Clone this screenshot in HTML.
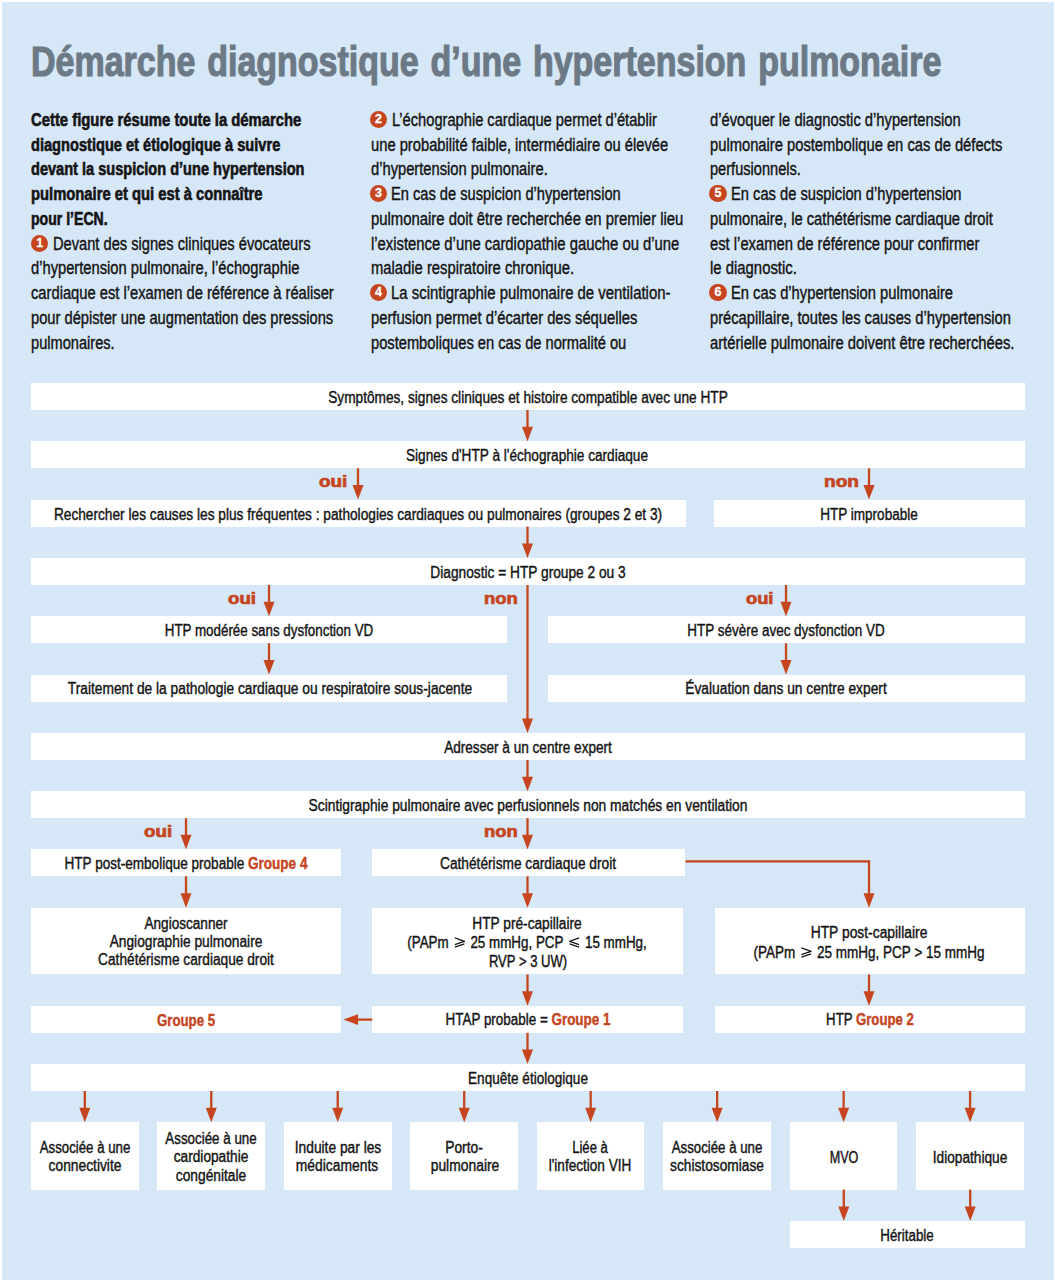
<!DOCTYPE html><html><head><meta charset="utf-8"><style>
html,body{margin:0;padding:0;background:#fff;}
body{width:1055px;height:1280px;position:relative;overflow:hidden;font-family:"Liberation Sans", sans-serif;}
#bg{position:absolute;left:1.7px;top:2px;width:1052px;height:1277.5px;background:#d6e7f7;}
.b{position:absolute;background:#fff;}
.t{position:absolute;white-space:pre;line-height:0;}
.t span.i{display:inline-block;}
.c{position:absolute;border-radius:50%;background:#c6451f;color:#fff;font-weight:700;text-align:center;}
</style></head><body><div id="bg"></div>

<div class="b" style="left:31.00px;top:383.00px;width:993.50px;height:27.00px"></div>
<div class="b" style="left:31.00px;top:441.30px;width:993.50px;height:27.00px"></div>
<div class="b" style="left:31.00px;top:499.60px;width:654.60px;height:27.00px"></div>
<div class="b" style="left:714.00px;top:499.60px;width:310.50px;height:27.00px"></div>
<div class="b" style="left:31.00px;top:558.10px;width:993.50px;height:27.00px"></div>
<div class="b" style="left:31.00px;top:616.30px;width:476.30px;height:27.00px"></div>
<div class="b" style="left:548.00px;top:616.30px;width:476.50px;height:27.00px"></div>
<div class="b" style="left:31.00px;top:674.60px;width:476.30px;height:27.00px"></div>
<div class="b" style="left:548.00px;top:674.60px;width:476.50px;height:27.00px"></div>
<div class="b" style="left:31.00px;top:733.00px;width:993.50px;height:27.00px"></div>
<div class="b" style="left:31.00px;top:791.20px;width:993.50px;height:27.00px"></div>
<div class="b" style="left:31.00px;top:849.30px;width:310.00px;height:27.00px"></div>
<div class="b" style="left:372.20px;top:849.30px;width:313.30px;height:27.00px"></div>
<div class="b" style="left:31.00px;top:907.80px;width:310.00px;height:66.70px"></div>
<div class="b" style="left:372.20px;top:907.80px;width:310.80px;height:66.70px"></div>
<div class="b" style="left:714.50px;top:907.80px;width:310.00px;height:66.70px"></div>
<div class="b" style="left:31.00px;top:1005.80px;width:310.00px;height:27.00px"></div>
<div class="b" style="left:372.20px;top:1005.80px;width:310.80px;height:27.00px"></div>
<div class="b" style="left:714.50px;top:1005.80px;width:310.00px;height:27.00px"></div>
<div class="b" style="left:31.00px;top:1064.00px;width:993.50px;height:27.00px"></div>
<div class="b" style="left:31.00px;top:1122.30px;width:107.60px;height:67.30px"></div>
<div class="b" style="left:157.47px;top:1122.30px;width:107.60px;height:67.30px"></div>
<div class="b" style="left:283.94px;top:1122.30px;width:107.60px;height:67.30px"></div>
<div class="b" style="left:410.41px;top:1122.30px;width:107.60px;height:67.30px"></div>
<div class="b" style="left:536.88px;top:1122.30px;width:107.60px;height:67.30px"></div>
<div class="b" style="left:663.35px;top:1122.30px;width:107.60px;height:67.30px"></div>
<div class="b" style="left:789.82px;top:1122.30px;width:107.60px;height:67.30px"></div>
<div class="b" style="left:916.29px;top:1122.30px;width:107.60px;height:67.30px"></div>
<div class="b" style="left:790.00px;top:1221.00px;width:234.50px;height:26.70px"></div>
<div class="t" id="t0" style="left:31.31px;top:60.80px;transform-origin:0 0;transform:scaleX(0.7851);font-size:43.3px;font-weight:700;color:#6b7a86;-webkit-text-stroke-width:1.2px"><span class="i" style="vertical-align:baseline"><span style="word-spacing:3px">Démarche diagnostique d’une hypertension pulmonaire</span></span></div>
<div class="t" id="t1" style="left:31.00px;top:119.84px;transform-origin:0 0;transform:scaleX(0.8475);font-size:17.5px;font-weight:700;color:#141414;-webkit-text-stroke-width:0.6px"><span class="i" style="vertical-align:baseline">Cette figure résume toute la démarche</span></div>
<div class="t" id="t2" style="left:31.00px;top:144.60px;transform-origin:0 0;transform:scaleX(0.8351);font-size:17.5px;font-weight:700;color:#141414;-webkit-text-stroke-width:0.6px"><span class="i" style="vertical-align:baseline">diagnostique et étiologique à suivre</span></div>
<div class="t" id="t3" style="left:31.00px;top:169.36px;transform-origin:0 0;transform:scaleX(0.8321);font-size:17.5px;font-weight:700;color:#141414;-webkit-text-stroke-width:0.6px"><span class="i" style="vertical-align:baseline">devant la suspicion d’une hypertension</span></div>
<div class="t" id="t4" style="left:31.00px;top:194.12px;transform-origin:0 0;transform:scaleX(0.8445);font-size:17.5px;font-weight:700;color:#141414;-webkit-text-stroke-width:0.6px"><span class="i" style="vertical-align:baseline">pulmonaire et qui est à connaître</span></div>
<div class="t" id="t5" style="left:31.00px;top:218.88px;transform-origin:0 0;transform:scaleX(0.8043);font-size:17.5px;font-weight:700;color:#141414;-webkit-text-stroke-width:0.6px"><span class="i" style="vertical-align:baseline">pour l’ECN.</span></div>
<div class="t" id="t6" style="left:53.10px;top:243.64px;transform-origin:0 0;transform:scaleX(0.8376);font-size:17.5px;font-weight:400;color:#141414;-webkit-text-stroke-width:0.4px"><span class="i" style="vertical-align:baseline">Devant des signes cliniques évocateurs</span></div>
<div class="t" id="t7" style="left:31.00px;top:268.40px;transform-origin:0 0;transform:scaleX(0.8410);font-size:17.5px;font-weight:400;color:#141414;-webkit-text-stroke-width:0.4px"><span class="i" style="vertical-align:baseline">d’hypertension pulmonaire, l’échographie</span></div>
<div class="t" id="t8" style="left:31.00px;top:293.16px;transform-origin:0 0;transform:scaleX(0.8412);font-size:17.5px;font-weight:400;color:#141414;-webkit-text-stroke-width:0.4px"><span class="i" style="vertical-align:baseline">cardiaque est l’examen de référence à réaliser</span></div>
<div class="t" id="t9" style="left:31.00px;top:317.92px;transform-origin:0 0;transform:scaleX(0.8395);font-size:17.5px;font-weight:400;color:#141414;-webkit-text-stroke-width:0.4px"><span class="i" style="vertical-align:baseline">pour dépister une augmentation des pressions</span></div>
<div class="t" id="t10" style="left:31.00px;top:342.68px;transform-origin:0 0;transform:scaleX(0.8352);font-size:17.5px;font-weight:400;color:#141414;-webkit-text-stroke-width:0.4px"><span class="i" style="vertical-align:baseline">pulmonaires.</span></div>
<div class="t" id="t11" style="left:392.06px;top:119.84px;transform-origin:0 0;transform:scaleX(0.8377);font-size:17.5px;font-weight:400;color:#141414;-webkit-text-stroke-width:0.4px"><span class="i" style="vertical-align:baseline">L’échographie cardiaque permet d’établir</span></div>
<div class="t" id="t12" style="left:371.03px;top:144.60px;transform-origin:0 0;transform:scaleX(0.8414);font-size:17.5px;font-weight:400;color:#141414;-webkit-text-stroke-width:0.4px"><span class="i" style="vertical-align:baseline">une probabilité faible, intermédiaire ou élevée</span></div>
<div class="t" id="t13" style="left:371.03px;top:169.36px;transform-origin:0 0;transform:scaleX(0.8411);font-size:17.5px;font-weight:400;color:#141414;-webkit-text-stroke-width:0.4px"><span class="i" style="vertical-align:baseline">d’hypertension pulmonaire.</span></div>
<div class="t" id="t14" style="left:391.06px;top:194.12px;transform-origin:0 0;transform:scaleX(0.8374);font-size:17.5px;font-weight:400;color:#141414;-webkit-text-stroke-width:0.4px"><span class="i" style="vertical-align:baseline">En cas de suspicion d’hypertension</span></div>
<div class="t" id="t15" style="left:371.03px;top:218.88px;transform-origin:0 0;transform:scaleX(0.8495);font-size:17.5px;font-weight:400;color:#141414;-webkit-text-stroke-width:0.4px"><span class="i" style="vertical-align:baseline">pulmonaire doit être recherchée en premier lieu</span></div>
<div class="t" id="t16" style="left:371.03px;top:243.64px;transform-origin:0 0;transform:scaleX(0.8473);font-size:17.5px;font-weight:400;color:#141414;-webkit-text-stroke-width:0.4px"><span class="i" style="vertical-align:baseline">l’existence d’une cardiopathie gauche ou d’une</span></div>
<div class="t" id="t17" style="left:371.03px;top:268.40px;transform-origin:0 0;transform:scaleX(0.8449);font-size:17.5px;font-weight:400;color:#141414;-webkit-text-stroke-width:0.4px"><span class="i" style="vertical-align:baseline">maladie respiratoire chronique.</span></div>
<div class="t" id="t18" style="left:391.05px;top:293.16px;transform-origin:0 0;transform:scaleX(0.8524);font-size:17.5px;font-weight:400;color:#141414;-webkit-text-stroke-width:0.4px"><span class="i" style="vertical-align:baseline">La scintigraphie pulmonaire de ventilation-</span></div>
<div class="t" id="t19" style="left:371.03px;top:317.92px;transform-origin:0 0;transform:scaleX(0.8424);font-size:17.5px;font-weight:400;color:#141414;-webkit-text-stroke-width:0.4px"><span class="i" style="vertical-align:baseline">perfusion permet d’écarter des séquelles</span></div>
<div class="t" id="t20" style="left:371.03px;top:342.68px;transform-origin:0 0;transform:scaleX(0.8384);font-size:17.5px;font-weight:400;color:#141414;-webkit-text-stroke-width:0.4px"><span class="i" style="vertical-align:baseline">postemboliques en cas de normalité ou</span></div>
<div class="t" id="t21" style="left:709.52px;top:119.84px;transform-origin:0 0;transform:scaleX(0.8422);font-size:17.5px;font-weight:400;color:#141414;-webkit-text-stroke-width:0.4px"><span class="i" style="vertical-align:baseline">d’évoquer le diagnostic d’hypertension</span></div>
<div class="t" id="t22" style="left:709.52px;top:144.60px;transform-origin:0 0;transform:scaleX(0.8420);font-size:17.5px;font-weight:400;color:#141414;-webkit-text-stroke-width:0.4px"><span class="i" style="vertical-align:baseline">pulmonaire postembolique en cas de défects</span></div>
<div class="t" id="t23" style="left:709.52px;top:169.36px;transform-origin:0 0;transform:scaleX(0.8339);font-size:17.5px;font-weight:400;color:#141414;-webkit-text-stroke-width:0.4px"><span class="i" style="vertical-align:baseline">perfusionnels.</span></div>
<div class="t" id="t24" style="left:730.61px;top:194.12px;transform-origin:0 0;transform:scaleX(0.8403);font-size:17.5px;font-weight:400;color:#141414;-webkit-text-stroke-width:0.4px"><span class="i" style="vertical-align:baseline">En cas de suspicion d’hypertension</span></div>
<div class="t" id="t25" style="left:709.52px;top:218.88px;transform-origin:0 0;transform:scaleX(0.8428);font-size:17.5px;font-weight:400;color:#141414;-webkit-text-stroke-width:0.4px"><span class="i" style="vertical-align:baseline">pulmonaire, le cathétérisme cardiaque droit</span></div>
<div class="t" id="t26" style="left:709.52px;top:243.64px;transform-origin:0 0;transform:scaleX(0.8443);font-size:17.5px;font-weight:400;color:#141414;-webkit-text-stroke-width:0.4px"><span class="i" style="vertical-align:baseline">est l’examen de référence pour confirmer</span></div>
<div class="t" id="t27" style="left:709.52px;top:268.40px;transform-origin:0 0;transform:scaleX(0.8507);font-size:17.5px;font-weight:400;color:#141414;-webkit-text-stroke-width:0.4px"><span class="i" style="vertical-align:baseline">le diagnostic.</span></div>
<div class="t" id="t28" style="left:730.61px;top:293.16px;transform-origin:0 0;transform:scaleX(0.8422);font-size:17.5px;font-weight:400;color:#141414;-webkit-text-stroke-width:0.4px"><span class="i" style="vertical-align:baseline">En cas d’hypertension pulmonaire</span></div>
<div class="t" id="t29" style="left:709.52px;top:317.92px;transform-origin:0 0;transform:scaleX(0.8408);font-size:17.5px;font-weight:400;color:#141414;-webkit-text-stroke-width:0.4px"><span class="i" style="vertical-align:baseline">précapillaire, toutes les causes d’hypertension</span></div>
<div class="t" id="t30" style="left:709.52px;top:342.68px;transform-origin:0 0;transform:scaleX(0.8434);font-size:17.5px;font-weight:400;color:#141414;-webkit-text-stroke-width:0.4px"><span class="i" style="vertical-align:baseline">artérielle pulmonaire doivent être recherchées.</span></div>
<div class="t" id="t31" style="left:527.50px;top:397.66px;transform-origin:0 0;transform:scaleX(0.8542) translateX(-50%);font-size:16px;font-weight:400;color:#141414;-webkit-text-stroke-width:0.4px"><span class="i" style="vertical-align:baseline">Symptômes, signes cliniques et histoire compatible avec une HTP</span></div>
<div class="t" id="t32" style="left:527.00px;top:455.66px;transform-origin:0 0;transform:scaleX(0.8515) translateX(-50%);font-size:16px;font-weight:400;color:#141414;-webkit-text-stroke-width:0.4px"><span class="i" style="vertical-align:baseline">Signes d'HTP à l'échographie cardiaque</span></div>
<div class="t" id="t33" style="left:358.00px;top:514.86px;transform-origin:0 0;transform:scaleX(0.8559) translateX(-50%);font-size:16px;font-weight:400;color:#141414;-webkit-text-stroke-width:0.4px"><span class="i" style="vertical-align:baseline">Rechercher les causes les plus fréquentes : pathologies cardiaques ou pulmonaires (groupes 2 et 3)</span></div>
<div class="t" id="t34" style="left:868.50px;top:514.86px;transform-origin:0 0;transform:scaleX(0.8453) translateX(-50%);font-size:16px;font-weight:400;color:#141414;-webkit-text-stroke-width:0.4px"><span class="i" style="vertical-align:baseline">HTP improbable</span></div>
<div class="t" id="t35" style="left:528.00px;top:573.16px;transform-origin:0 0;transform:scaleX(0.8570) translateX(-50%);font-size:16px;font-weight:400;color:#141414;-webkit-text-stroke-width:0.4px"><span class="i" style="vertical-align:baseline">Diagnostic = HTP groupe 2 ou 3</span></div>
<div class="t" id="t36" style="left:269.00px;top:630.96px;transform-origin:0 0;transform:scaleX(0.8351) translateX(-50%);font-size:16px;font-weight:400;color:#141414;-webkit-text-stroke-width:0.4px"><span class="i" style="vertical-align:baseline">HTP modérée sans dysfonction VD</span></div>
<div class="t" id="t37" style="left:785.50px;top:630.96px;transform-origin:0 0;transform:scaleX(0.8416) translateX(-50%);font-size:16px;font-weight:400;color:#141414;-webkit-text-stroke-width:0.4px"><span class="i" style="vertical-align:baseline">HTP sévère avec dysfonction VD</span></div>
<div class="t" id="t38" style="left:270.00px;top:689.26px;transform-origin:0 0;transform:scaleX(0.8607) translateX(-50%);font-size:16px;font-weight:400;color:#141414;-webkit-text-stroke-width:0.4px"><span class="i" style="vertical-align:baseline">Traitement de la pathologie cardiaque ou respiratoire sous-jacente</span></div>
<div class="t" id="t39" style="left:785.50px;top:689.26px;transform-origin:0 0;transform:scaleX(0.8613) translateX(-50%);font-size:16px;font-weight:400;color:#141414;-webkit-text-stroke-width:0.4px"><span class="i" style="vertical-align:baseline">Évaluation dans un centre expert</span></div>
<div class="t" id="t40" style="left:527.50px;top:747.76px;transform-origin:0 0;transform:scaleX(0.8494) translateX(-50%);font-size:16px;font-weight:400;color:#141414;-webkit-text-stroke-width:0.4px"><span class="i" style="vertical-align:baseline">Adresser à un centre expert</span></div>
<div class="t" id="t41" style="left:527.50px;top:806.16px;transform-origin:0 0;transform:scaleX(0.8627) translateX(-50%);font-size:16px;font-weight:400;color:#141414;-webkit-text-stroke-width:0.4px"><span class="i" style="vertical-align:baseline">Scintigraphie pulmonaire avec perfusionnels non matchés en ventilation</span></div>
<div class="t" id="t42" style="left:185.50px;top:864.36px;transform-origin:0 0;transform:scaleX(0.8465) translateX(-50%);font-size:16px;font-weight:400;color:#141414;-webkit-text-stroke-width:0.4px"><span class="i" style="vertical-align:baseline">HTP post-embolique probable <span style="color:#c6451f;font-weight:700">Groupe 4</span></span></div>
<div class="t" id="t43" style="left:528.00px;top:864.36px;transform-origin:0 0;transform:scaleX(0.8565) translateX(-50%);font-size:16px;font-weight:400;color:#141414;-webkit-text-stroke-width:0.4px"><span class="i" style="vertical-align:baseline">Cathétérisme cardiaque droit</span></div>
<div class="t" id="t44" style="left:186.00px;top:924.36px;transform-origin:0 0;transform:scaleX(0.8493) translateX(-50%);font-size:16px;font-weight:400;color:#141414;-webkit-text-stroke-width:0.4px"><span class="i" style="vertical-align:baseline">Angioscanner</span></div>
<div class="t" id="t45" style="left:186.00px;top:942.36px;transform-origin:0 0;transform:scaleX(0.8583) translateX(-50%);font-size:16px;font-weight:400;color:#141414;-webkit-text-stroke-width:0.4px"><span class="i" style="vertical-align:baseline">Angiographie pulmonaire</span></div>
<div class="t" id="t46" style="left:185.50px;top:960.36px;transform-origin:0 0;transform:scaleX(0.8555) translateX(-50%);font-size:16px;font-weight:400;color:#141414;-webkit-text-stroke-width:0.4px"><span class="i" style="vertical-align:baseline">Cathétérisme cardiaque droit</span></div>
<div class="t" id="t47" style="left:527.00px;top:924.16px;transform-origin:0 0;transform:scaleX(0.8567) translateX(-50%);font-size:16px;font-weight:400;color:#141414;-webkit-text-stroke-width:0.4px"><span class="i" style="vertical-align:baseline">HTP pré-capillaire</span></div>
<div class="t" id="t48" style="left:527.00px;top:942.86px;transform-origin:0 0;transform:scaleX(0.8376) translateX(-50%);font-size:16px;font-weight:400;color:#141414;-webkit-text-stroke-width:0.4px"><span class="i" style="vertical-align:baseline">(PAPm <span style="display:inline-block;position:relative;width:13px;height:0;margin:0 2px"><svg width="13" height="10.5" viewBox="0 0 13 10.5" style="position:absolute;left:0;bottom:0"><path d="M0.8 0.8L12.2 4.3L0.8 7.6M0.8 10.1L12.2 6.8" fill="none" stroke="currentColor" stroke-width="1.3"/></svg></span> 25 mmHg, PCP <span style="display:inline-block;position:relative;width:13px;height:0;margin:0 2px"><svg width="13" height="10.5" viewBox="0 0 13 10.5" style="position:absolute;left:0;bottom:0"><path d="M12.2 0.8L0.8 4.3L12.2 7.6M12.2 10.1L0.8 6.8" fill="none" stroke="currentColor" stroke-width="1.3"/></svg></span> 15 mmHg,</span></div>
<div class="t" id="t49" style="left:527.50px;top:961.66px;transform-origin:0 0;transform:scaleX(0.8148) translateX(-50%);font-size:16px;font-weight:400;color:#141414;-webkit-text-stroke-width:0.4px"><span class="i" style="vertical-align:baseline">RVP &gt; 3 UW)</span></div>
<div class="t" id="t50" style="left:869.00px;top:933.36px;transform-origin:0 0;transform:scaleX(0.8652) translateX(-50%);font-size:16px;font-weight:400;color:#141414;-webkit-text-stroke-width:0.4px"><span class="i" style="vertical-align:baseline">HTP post-capillaire</span></div>
<div class="t" id="t51" style="left:868.50px;top:952.76px;transform-origin:0 0;transform:scaleX(0.8440) translateX(-50%);font-size:16px;font-weight:400;color:#141414;-webkit-text-stroke-width:0.4px"><span class="i" style="vertical-align:baseline">(PAPm <span style="display:inline-block;position:relative;width:13px;height:0;margin:0 2px"><svg width="13" height="10.5" viewBox="0 0 13 10.5" style="position:absolute;left:0;bottom:0"><path d="M0.8 0.8L12.2 4.3L0.8 7.6M0.8 10.1L12.2 6.8" fill="none" stroke="currentColor" stroke-width="1.3"/></svg></span> 25 mmHg, PCP &gt; 15 mmHg</span></div>
<div class="t" id="t52" style="left:186.00px;top:1020.66px;transform-origin:0 0;transform:scaleX(0.8276) translateX(-50%);font-size:16px;font-weight:400;color:#141414;-webkit-text-stroke-width:0.4px"><span class="i" style="vertical-align:baseline"><span style="color:#c6451f;font-weight:700">Groupe 5</span></span></div>
<div class="t" id="t53" style="left:527.50px;top:1020.36px;transform-origin:0 0;transform:scaleX(0.8395) translateX(-50%);font-size:16px;font-weight:400;color:#141414;-webkit-text-stroke-width:0.4px"><span class="i" style="vertical-align:baseline">HTAP probable = <span style="color:#c6451f;font-weight:700">Groupe 1</span></span></div>
<div class="t" id="t54" style="left:869.50px;top:1020.36px;transform-origin:0 0;transform:scaleX(0.8248) translateX(-50%);font-size:16px;font-weight:400;color:#141414;-webkit-text-stroke-width:0.4px"><span class="i" style="vertical-align:baseline">HTP <span style="color:#c6451f;font-weight:700">Groupe 2</span></span></div>
<div class="t" id="t55" style="left:528.00px;top:1078.86px;transform-origin:0 0;transform:scaleX(0.8475) translateX(-50%);font-size:16px;font-weight:400;color:#141414;-webkit-text-stroke-width:0.4px"><span class="i" style="vertical-align:baseline">Enquête étiologique</span></div>
<div class="t" id="t56" style="left:84.50px;top:1147.96px;transform-origin:0 0;transform:scaleX(0.8281) translateX(-50%);font-size:16px;font-weight:400;color:#141414;-webkit-text-stroke-width:0.4px"><span class="i" style="vertical-align:baseline">Associée à une</span></div>
<div class="t" id="t57" style="left:85.00px;top:1166.36px;transform-origin:0 0;transform:scaleX(0.8623) translateX(-50%);font-size:16px;font-weight:400;color:#141414;-webkit-text-stroke-width:0.4px"><span class="i" style="vertical-align:baseline">connectivite</span></div>
<div class="t" id="t58" style="left:210.85px;top:1138.76px;transform-origin:0 0;transform:scaleX(0.8354) translateX(-50%);font-size:16px;font-weight:400;color:#141414;-webkit-text-stroke-width:0.4px"><span class="i" style="vertical-align:baseline">Associée à une</span></div>
<div class="t" id="t59" style="left:211.35px;top:1157.26px;transform-origin:0 0;transform:scaleX(0.8556) translateX(-50%);font-size:16px;font-weight:400;color:#141414;-webkit-text-stroke-width:0.4px"><span class="i" style="vertical-align:baseline">cardiopathie</span></div>
<div class="t" id="t60" style="left:211.35px;top:1175.56px;transform-origin:0 0;transform:scaleX(0.8608) translateX(-50%);font-size:16px;font-weight:400;color:#141414;-webkit-text-stroke-width:0.4px"><span class="i" style="vertical-align:baseline">congénitale</span></div>
<div class="t" id="t61" style="left:338.20px;top:1147.96px;transform-origin:0 0;transform:scaleX(0.8600) translateX(-50%);font-size:16px;font-weight:400;color:#141414;-webkit-text-stroke-width:0.4px"><span class="i" style="vertical-align:baseline">Induite par les</span></div>
<div class="t" id="t62" style="left:337.20px;top:1166.36px;transform-origin:0 0;transform:scaleX(0.8656) translateX(-50%);font-size:16px;font-weight:400;color:#141414;-webkit-text-stroke-width:0.4px"><span class="i" style="vertical-align:baseline">médicaments</span></div>
<div class="t" id="t63" style="left:464.05px;top:1147.96px;transform-origin:0 0;transform:scaleX(0.8633) translateX(-50%);font-size:16px;font-weight:400;color:#141414;-webkit-text-stroke-width:0.4px"><span class="i" style="vertical-align:baseline">Porto-</span></div>
<div class="t" id="t64" style="left:464.55px;top:1166.36px;transform-origin:0 0;transform:scaleX(0.8674) translateX(-50%);font-size:16px;font-weight:400;color:#141414;-webkit-text-stroke-width:0.4px"><span class="i" style="vertical-align:baseline">pulmonaire</span></div>
<div class="t" id="t65" style="left:590.40px;top:1147.96px;transform-origin:0 0;transform:scaleX(0.8179) translateX(-50%);font-size:16px;font-weight:400;color:#141414;-webkit-text-stroke-width:0.4px"><span class="i" style="vertical-align:baseline">Liée à</span></div>
<div class="t" id="t66" style="left:590.40px;top:1166.36px;transform-origin:0 0;transform:scaleX(0.8480) translateX(-50%);font-size:16px;font-weight:400;color:#141414;-webkit-text-stroke-width:0.4px"><span class="i" style="vertical-align:baseline">l'infection VIH</span></div>
<div class="t" id="t67" style="left:717.25px;top:1147.96px;transform-origin:0 0;transform:scaleX(0.8281) translateX(-50%);font-size:16px;font-weight:400;color:#141414;-webkit-text-stroke-width:0.4px"><span class="i" style="vertical-align:baseline">Associée à une</span></div>
<div class="t" id="t68" style="left:716.75px;top:1166.36px;transform-origin:0 0;transform:scaleX(0.8592) translateX(-50%);font-size:16px;font-weight:400;color:#141414;-webkit-text-stroke-width:0.4px"><span class="i" style="vertical-align:baseline">schistosomiase</span></div>
<div class="t" id="t69" style="left:844.10px;top:1158.36px;transform-origin:0 0;transform:scaleX(0.7863) translateX(-50%);font-size:16px;font-weight:400;color:#141414;-webkit-text-stroke-width:0.4px"><span class="i" style="vertical-align:baseline">MVO</span></div>
<div class="t" id="t70" style="left:970.45px;top:1158.36px;transform-origin:0 0;transform:scaleX(0.8548) translateX(-50%);font-size:16px;font-weight:400;color:#141414;-webkit-text-stroke-width:0.4px"><span class="i" style="vertical-align:baseline">Idiopathique</span></div>
<div class="t" id="t71" style="left:906.50px;top:1236.06px;transform-origin:0 0;transform:scaleX(0.8348) translateX(-50%);font-size:16px;font-weight:400;color:#141414;-webkit-text-stroke-width:0.4px"><span class="i" style="vertical-align:baseline">Héritable</span></div>
<div class="t" id="t72" style="left:319.00px;top:481.96px;transform-origin:0 0;transform:scaleX(1.1794);font-size:16px;font-weight:700;color:#c6451f;-webkit-text-stroke-width:0.7px"><span class="i" style="vertical-align:baseline">oui</span></div>
<div class="t" id="t73" style="left:824.00px;top:481.96px;transform-origin:0 0;transform:scaleX(1.1900);font-size:16px;font-weight:700;color:#c6451f;-webkit-text-stroke-width:0.7px"><span class="i" style="vertical-align:baseline">non</span></div>
<div class="t" id="t74" style="left:228.00px;top:598.76px;transform-origin:0 0;transform:scaleX(1.1700);font-size:16px;font-weight:700;color:#c6451f;-webkit-text-stroke-width:0.7px"><span class="i" style="vertical-align:baseline">oui</span></div>
<div class="t" id="t75" style="left:484.00px;top:598.76px;transform-origin:0 0;transform:scaleX(1.1550);font-size:16px;font-weight:700;color:#c6451f;-webkit-text-stroke-width:0.7px"><span class="i" style="vertical-align:baseline">non</span></div>
<div class="t" id="t76" style="left:746.00px;top:598.76px;transform-origin:0 0;transform:scaleX(1.1446);font-size:16px;font-weight:700;color:#c6451f;-webkit-text-stroke-width:0.7px"><span class="i" style="vertical-align:baseline">oui</span></div>
<div class="t" id="t77" style="left:144.41px;top:831.96px;transform-origin:0 0;transform:scaleX(1.1708);font-size:16px;font-weight:700;color:#c6451f;-webkit-text-stroke-width:0.7px"><span class="i" style="vertical-align:baseline">oui</span></div>
<div class="t" id="t78" style="left:484.00px;top:831.96px;transform-origin:0 0;transform:scaleX(1.1485);font-size:16px;font-weight:700;color:#c6451f;-webkit-text-stroke-width:0.7px"><span class="i" style="vertical-align:baseline">non</span></div>
<div class="c" style="left:31.15px;top:234.65px;width:17.1px;height:17.1px;font-size:12.5px;line-height:17.1px;-webkit-text-stroke-width:0.3px">1</div>
<div class="c" style="left:370.05px;top:110.85px;width:17.1px;height:17.1px;font-size:12.5px;line-height:17.1px;-webkit-text-stroke-width:0.3px">2</div>
<div class="c" style="left:370.05px;top:185.13px;width:17.1px;height:17.1px;font-size:12.5px;line-height:17.1px;-webkit-text-stroke-width:0.3px">3</div>
<div class="c" style="left:370.05px;top:284.17px;width:17.1px;height:17.1px;font-size:12.5px;line-height:17.1px;-webkit-text-stroke-width:0.3px">4</div>
<div class="c" style="left:709.45px;top:185.13px;width:17.1px;height:17.1px;font-size:12.5px;line-height:17.1px;-webkit-text-stroke-width:0.3px">5</div>
<div class="c" style="left:709.45px;top:284.17px;width:17.1px;height:17.1px;font-size:12.5px;line-height:17.1px;-webkit-text-stroke-width:0.3px">6</div>
<svg style="position:absolute;left:0;top:0" width="1055" height="1280" viewBox="0 0 1055 1280">
<rect x="526.35" y="410.00" width="2.3" height="17.80" fill="#c6451f"/>
<path d="M522.00 426.80L533.00 426.80L527.50 441.30Z" fill="#c6451f"/>
<rect x="356.85" y="468.30" width="2.3" height="17.80" fill="#c6451f"/>
<path d="M352.50 485.10L363.50 485.10L358.00 499.60Z" fill="#c6451f"/>
<rect x="867.85" y="468.30" width="2.3" height="17.80" fill="#c6451f"/>
<path d="M863.50 485.10L874.50 485.10L869.00 499.60Z" fill="#c6451f"/>
<rect x="526.35" y="526.60" width="2.3" height="18.00" fill="#c6451f"/>
<path d="M522.00 543.60L533.00 543.60L527.50 558.10Z" fill="#c6451f"/>
<rect x="267.85" y="585.10" width="2.3" height="17.70" fill="#c6451f"/>
<path d="M263.50 601.80L274.50 601.80L269.00 616.30Z" fill="#c6451f"/>
<rect x="784.85" y="585.10" width="2.3" height="17.70" fill="#c6451f"/>
<path d="M780.50 601.80L791.50 601.80L786.00 616.30Z" fill="#c6451f"/>
<rect x="526.35" y="585.10" width="2.3" height="134.40" fill="#c6451f"/>
<path d="M522.00 718.50L533.00 718.50L527.50 733.00Z" fill="#c6451f"/>
<rect x="267.85" y="643.30" width="2.3" height="17.80" fill="#c6451f"/>
<path d="M263.50 660.10L274.50 660.10L269.00 674.60Z" fill="#c6451f"/>
<rect x="784.85" y="643.30" width="2.3" height="17.80" fill="#c6451f"/>
<path d="M780.50 660.10L791.50 660.10L786.00 674.60Z" fill="#c6451f"/>
<rect x="526.35" y="760.00" width="2.3" height="17.70" fill="#c6451f"/>
<path d="M522.00 776.70L533.00 776.70L527.50 791.20Z" fill="#c6451f"/>
<rect x="184.85" y="818.20" width="2.3" height="17.60" fill="#c6451f"/>
<path d="M180.50 834.80L191.50 834.80L186.00 849.30Z" fill="#c6451f"/>
<rect x="526.35" y="818.20" width="2.3" height="17.60" fill="#c6451f"/>
<path d="M522.00 834.80L533.00 834.80L527.50 849.30Z" fill="#c6451f"/>
<rect x="184.85" y="876.30" width="2.3" height="18.00" fill="#c6451f"/>
<path d="M180.50 893.30L191.50 893.30L186.00 907.80Z" fill="#c6451f"/>
<rect x="526.35" y="876.30" width="2.3" height="18.00" fill="#c6451f"/>
<path d="M522.00 893.30L533.00 893.30L527.50 907.80Z" fill="#c6451f"/>
<rect x="867.85" y="861.40" width="2.3" height="32.90" fill="#c6451f"/>
<path d="M863.50 893.30L874.50 893.30L869.00 907.80Z" fill="#c6451f"/>
<rect x="526.35" y="974.50" width="2.3" height="17.80" fill="#c6451f"/>
<path d="M522.00 991.30L533.00 991.30L527.50 1005.80Z" fill="#c6451f"/>
<rect x="867.85" y="974.50" width="2.3" height="17.80" fill="#c6451f"/>
<path d="M863.50 991.30L874.50 991.30L869.00 1005.80Z" fill="#c6451f"/>
<rect x="526.35" y="1032.80" width="2.3" height="17.70" fill="#c6451f"/>
<path d="M522.00 1049.50L533.00 1049.50L527.50 1064.00Z" fill="#c6451f"/>
<rect x="83.65" y="1091.00" width="2.3" height="17.80" fill="#c6451f"/>
<path d="M79.30 1107.80L90.30 1107.80L84.80 1122.30Z" fill="#c6451f"/>
<rect x="210.12" y="1091.00" width="2.3" height="17.80" fill="#c6451f"/>
<path d="M205.77 1107.80L216.77 1107.80L211.27 1122.30Z" fill="#c6451f"/>
<rect x="336.59" y="1091.00" width="2.3" height="17.80" fill="#c6451f"/>
<path d="M332.24 1107.80L343.24 1107.80L337.74 1122.30Z" fill="#c6451f"/>
<rect x="463.06" y="1091.00" width="2.3" height="17.80" fill="#c6451f"/>
<path d="M458.71 1107.80L469.71 1107.80L464.21 1122.30Z" fill="#c6451f"/>
<rect x="589.53" y="1091.00" width="2.3" height="17.80" fill="#c6451f"/>
<path d="M585.18 1107.80L596.18 1107.80L590.68 1122.30Z" fill="#c6451f"/>
<rect x="716.00" y="1091.00" width="2.3" height="17.80" fill="#c6451f"/>
<path d="M711.65 1107.80L722.65 1107.80L717.15 1122.30Z" fill="#c6451f"/>
<rect x="842.47" y="1091.00" width="2.3" height="17.80" fill="#c6451f"/>
<path d="M838.12 1107.80L849.12 1107.80L843.62 1122.30Z" fill="#c6451f"/>
<rect x="968.94" y="1091.00" width="2.3" height="17.80" fill="#c6451f"/>
<path d="M964.59 1107.80L975.59 1107.80L970.09 1122.30Z" fill="#c6451f"/>
<rect x="842.65" y="1189.60" width="2.3" height="17.90" fill="#c6451f"/>
<path d="M838.30 1206.50L849.30 1206.50L843.80 1221.00Z" fill="#c6451f"/>
<rect x="969.05" y="1189.60" width="2.3" height="17.90" fill="#c6451f"/>
<path d="M964.70 1206.50L975.70 1206.50L970.20 1221.00Z" fill="#c6451f"/>
<rect x="685.5" y="860.25" width="184.65" height="2.3" fill="#c6451f"/>
<rect x="357" y="1018.45" width="15.30" height="2.3" fill="#c6451f"/>
<path d="M343.5 1019.6L358 1014.2L358 1025Z" fill="#c6451f"/>
</svg>
</body></html>
